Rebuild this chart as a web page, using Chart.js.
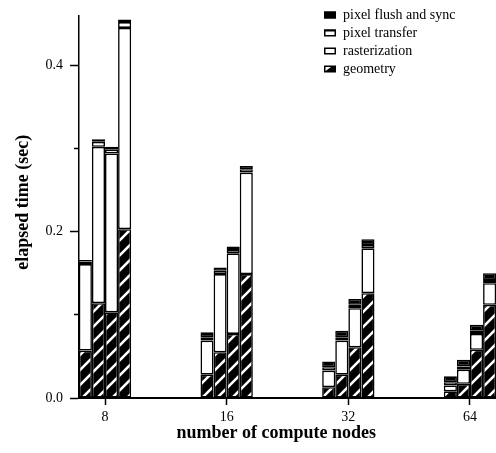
<!DOCTYPE html>
<html>
<head>
<meta charset="utf-8">
<script src="https://cdn.jsdelivr.net/npm/chart.js@4/dist/chart.umd.min.js"></script>
<style>
  html, body { margin: 0; padding: 0; background: #fff; overflow: hidden; }
  #wrap { width: 496px; height: 453px; }
</style>
</head>
<body>
<div id="wrap"><canvas id="barChart" width="496" height="453"></canvas></div>
<script>
const categories = ['8', '16', '32', '64'];

// one row per bar inside a group (4 bars), one column per node count
const geometry = [
  [0.057, 0.028, 0.013, 0.008],
  [0.114, 0.055, 0.028, 0.017],
  [0.103, 0.077, 0.061, 0.058],
  [0.203, 0.149, 0.126, 0.112]
];
const rasterization = [
  [0.104, 0.041, 0.020, 0.007],
  [0.188, 0.094, 0.041, 0.017],
  [0.191, 0.097, 0.047, 0.019],
  [0.242, 0.122, 0.054, 0.026]
];
const pixelTransfer = [
  [0.003, 0.004, 0.004, 0.004],
  [0.006, 0.004, 0.004, 0.004],
  [0.005, 0.004, 0.004, 0.004],
  [0.007, 0.004, 0.004, 0.004]
];
const pixelFlush = [
  [0.002, 0.006, 0.007, 0.007],
  [0.003, 0.004, 0.008, 0.008],
  [0.003, 0.004, 0.007, 0.007],
  [0.003, 0.004, 0.007, 0.008]
];

const yMajorTicks = [0, 0.2, 0.4];

// black with white "/" stripes
function makeHatch() {
  const s = 15;
  const c = document.createElement('canvas');
  c.width = s; c.height = s;
  const g = c.getContext('2d');
  g.fillStyle = '#000';
  g.fillRect(0, 0, s, s);
  g.strokeStyle = '#fff';
  g.lineWidth = 2.6;
  g.beginPath();
  g.moveTo(-2, 2); g.lineTo(2, -2);
  g.moveTo(0, s); g.lineTo(s, 0);
  g.moveTo(s - 2, s + 2); g.lineTo(s + 2, s - 2);
  g.stroke();
  return g.createPattern(c, 'repeat');
}
const hatch = makeHatch();

const components = [
  { label: 'geometry', values: geometry, fill: hatch },
  { label: 'rasterization', values: rasterization, fill: '#ffffff' },
  { label: 'pixel transfer', values: pixelTransfer, fill: '#ffffff' },
  { label: 'pixel flush and sync', values: pixelFlush, fill: '#000000' }
];

const datasets = [];
components.forEach(comp => {
  comp.values.forEach((row, b) => {
    datasets.push({
      label: comp.label,
      stack: 'bar' + b,
      data: row.map((v, i) => ({ x: i, y: v })),
      backgroundColor: comp.fill,
      borderColor: '#000',
      borderWidth: 1.6,
      borderSkipped: false,
      categoryPercentage: 0.43,
      barPercentage: 1.0
    });
  });
});

const serif = 'Liberation Serif';

// legend drawn in the upper right corner, flush on top
const legendPlugin = {
  id: 'cornerLegend',
  afterDraw(chart) {
    const ctx = chart.ctx;
    const rows = components.slice().reverse();
    ctx.save();
    ctx.font = '14px "' + serif + '"';
    ctx.textBaseline = 'middle';
    ctx.fillStyle = '#000';
    rows.forEach((comp, i) => {
      const cy = 15 + i * 18;
      const bx = 324, bw = 12, bh = 7, by = cy - bh / 2;
      if (comp.label === 'geometry') {
        ctx.fillStyle = '#000';
        ctx.fillRect(bx, by, bw, bh);
        ctx.fillStyle = '#fff';
        ctx.beginPath();
        ctx.moveTo(bx + 1.5, by + 1.5);
        ctx.lineTo(bx + 7, by + 1.5);
        ctx.lineTo(bx + 1.5, by + bh - 1.5);
        ctx.closePath();
        ctx.fill();
      } else {
        ctx.fillStyle = comp.fill;
        ctx.fillRect(bx, by, bw, bh);
        ctx.strokeStyle = '#000';
        ctx.lineWidth = 1.5;
        ctx.strokeRect(bx + 0.75, by + 0.75, bw - 1.5, bh - 1.5);
        if (comp.label === 'pixel transfer') {
          ctx.fillStyle = '#000';
          ctx.fillRect(bx, by, bw, 2);
        }
      }
      ctx.fillStyle = '#000';
      ctx.fillText(comp.label, 343, cy);
    });
    ctx.restore();
  }
};

const ctx = document.getElementById('barChart').getContext('2d');
new Chart(ctx, {
  type: 'bar',
  data: { datasets: datasets },
  plugins: [legendPlugin],
  options: {
    responsive: false,
    animation: false,
    layout: { padding: { top: 9, right: 0, bottom: 0, left: 0 } },
    plugins: {
      legend: { display: false },
      tooltip: { enabled: false }
    },
    scales: {
      x: {
        type: 'linear',
        offset: false,
        min: -0.2137,
        max: 3.2137,
        afterBuildTicks: axis => {
          axis.ticks = categories.map((c, i) => ({ value: i }));
        },
        afterFit: axis => { axis.height = 55; },
        ticks: {
          callback: v => categories[v],
          color: '#000',
          padding: 4,
          maxRotation: 0,
          font: { family: serif, size: 14 }
        },
        grid: {
          offset: false,
          drawOnChartArea: false,
          tickLength: 7,
          tickWidth: 1.5,
          tickColor: '#000'
        },
        border: { color: '#000', width: 2 },
        title: {
          display: true,
          text: 'number of compute nodes     ',
          color: '#000',
          padding: { top: 0, bottom: 9 },
          font: { family: serif, size: 18, weight: 'bold' }
        }
      },
      y: {
        stacked: true,
        min: 0,
        max: 0.46,
        afterFit: axis => { axis.width = 79; },
        ticks: {
          stepSize: 0.1,
          includeBounds: false,
          color: '#000',
          padding: 7,
          font: { family: serif, size: 14 },
          callback: v => {
            const m = yMajorTicks.find(t => Math.abs(t - v) < 1e-6);
            return m === undefined ? '' : m.toFixed(1);
          }
        },
        grid: {
          drawOnChartArea: false,
          tickLength: 9,
          tickWidth: 1.5,
          tickColor: '#000',
          tickBorderDash: c => {
            const major = c.tick && yMajorTicks.some(t => Math.abs(t - c.tick.value) < 1e-6);
            return major ? [] : [0, 4, 5, 0];
          }
        },
        border: { color: '#000', width: 1.5 },
        title: {
          display: true,
          text: '  elapsed time (sec)',
          color: '#000',
          padding: { top: 13, bottom: 0 },
          font: { family: serif, size: 18, weight: 'bold' }
        }
      }
    }
  }
});
</script>
</body>
</html>
